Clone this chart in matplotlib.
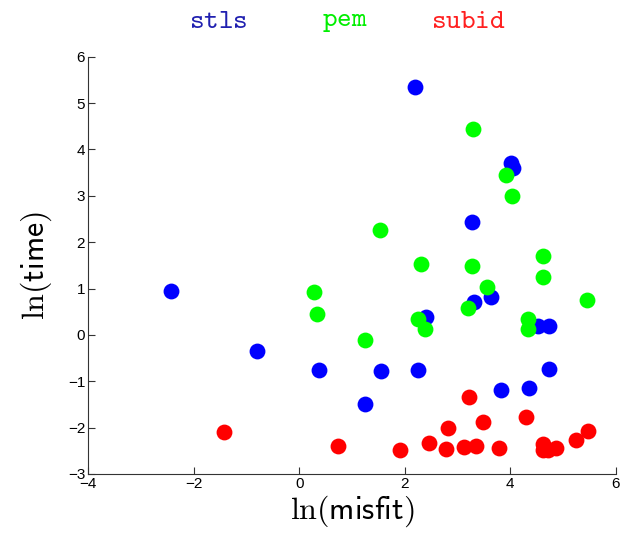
import matplotlib
matplotlib.use('Agg')
import matplotlib.pyplot as plt

plt.rcParams['mathtext.fontset'] = 'cm'
plt.rcParams['font.family'] = ['Liberation Sans', 'DejaVu Sans']

# ln(misfit), ln(time) for each method
stls_x = [2.20, 4.01, 4.05, 3.27, -2.43, -0.80, 0.37, 1.25, 1.55, 2.25,
          2.40, 3.32, 3.63, 4.52, 4.74, 4.74, 3.82, 4.35]
stls_y = [5.34, 3.71, 3.59, 2.43, 0.95, -0.34, -0.75, -1.49, -0.77, -0.75,
          0.39, 0.70, 0.81, 0.20, 0.20, -0.74, -1.19, -1.14]

pem_x = [3.30, 3.92, 4.03, 1.53, 2.30, 3.27, 4.61, 4.61, 3.55, 5.46,
         3.20, 2.25, 2.39, 4.33, 4.33, 1.25, 0.28, 0.34]
pem_y = [4.44, 3.45, 3.00, 2.26, 1.52, 1.49, 1.71, 1.24, 1.04, 0.75,
         0.59, 0.34, 0.12, 0.34, 0.13, -0.11, 0.92, 0.46]

subid_x = [-1.43, 0.73, 1.91, 2.46, 2.79, 2.82, 3.13, 3.35, 3.22, 3.48,
           3.78, 4.30, 4.61, 4.61, 4.71, 4.87, 5.24, 5.48]
subid_y = [-2.10, -2.39, -2.49, -2.34, -2.46, -2.02, -2.41, -2.39, -1.33, -1.89,
           -2.44, -1.77, -2.36, -2.48, -2.49, -2.44, -2.27, -2.08]

fig = plt.figure(figsize=(6.24, 5.41), dpi=100)
ax = fig.add_axes([0.141, 0.124, 0.846, 0.771])

ax.scatter(stls_x, stls_y, s=130, c='#0000ff', linewidths=0, zorder=3)
ax.scatter(pem_x, pem_y, s=130, c='#00ff00', linewidths=0, zorder=3)
ax.scatter(subid_x, subid_y, s=130, c='#ff0000', linewidths=0, zorder=3)

ax.set_xlim(-4, 6)
ax.set_ylim(-3, 6)
ax.set_xticks(range(-4, 7, 2))
ax.set_yticks(range(-3, 7))
ax.spines['top'].set_visible(False)
ax.spines['right'].set_visible(False)
ax.spines['left'].set_color('#333333')
ax.spines['bottom'].set_color('#333333')
ax.tick_params(direction='in', length=5, labelsize=11, pad=2, color='#333333')

ax.set_xlabel(r'$\ln(\mathsf{misfit})$', fontsize=23, labelpad=2)
ax.set_ylabel(r'$\ln(\mathsf{time})$', fontsize=23, labelpad=10)

# coloured method names across the top
for name, col, xp in [('stls', '#2020b0', 218), ('pem', '#00ee00', 345),
                      ('subid', '#ff2020', 468)]:
    fig.text(xp / 624, 1 - 21 / 541, r'$\mathtt{%s}$' % name, color=col,
             fontsize=20, ha='center', va='center')

fig.savefig('out.png', dpi=100)
